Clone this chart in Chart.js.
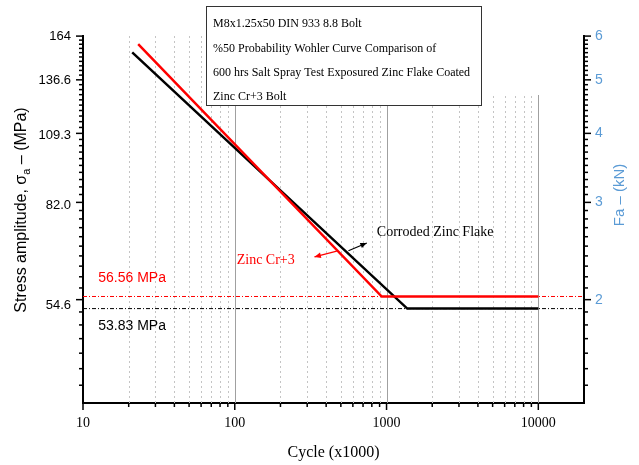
<!DOCTYPE html>
<html>
<head>
<meta charset="utf-8">
<script src="https://cdn.jsdelivr.net/npm/chart.js@4.4.1/dist/chart.umd.min.js"></script>
<style>
  html, body { margin: 0; padding: 0; background: #fff; }
  #wrap { position: relative; width: 639px; height: 465px; }
</style>
</head>
<body>
<div id="wrap"><canvas id="wohler"></canvas></div>
<script>
// datos
const cycleTicks = [10, 100, 1000, 10000];
const stressTicks = [54.6, 82.0, 109.3, 136.6, 164];
const stressTickLabels = ['54.6', '82.0', '109.3', '136.6', '164'];
const forceTicks = [2, 3, 4, 5, 6];

const corrodedCycles = [21.1, 1370, 10000];
const corrodedStress = [153.4, 53.83, 53.83];
const zincCycles = [23.1, 930, 10000];
const zincStress = [158.7, 56.56, 56.56];

const limitCycles = [10, 20000];
const corrodedLimit = [53.83, 53.83];
const zincLimit = [56.56, 56.56];

const stressArea = 36.6; // mm2 (M8)
const stressMin = 36.6, stressMax = 164;
const cycleMin = 10, cycleMax = 20000;

const titleLines = [
    'M8x1.25x50 DIN 933 8.8 Bolt',
    '%50 Probability Wohler Curve Comparison of',
    '600 hrs Salt Spray Test Exposured Zinc Flake Coated',
    'Zinc Cr+3 Bolt'
];

const RED = '#ff0000';
const BLUE = '#5b9bd5';

function pts(xs, ys) {
    return xs.map((x, i) => ({ x: x, y: ys[i] }));
}

// ticks menores (grid del eje x y ticks en kN)
const minorCycles = [];
[10, 100, 1000].forEach(d => { for (let k = 2; k <= 9; k++) minorCycles.push(d * k); });
const minorForce = [];
for (let k = 14; k < 60; k++) { if (k % 10) minorForce.push(k / 10); }

// notas con flechas (coordenadas en datos)
const notes = [
    { text: 'Corroded Zinc Flake', color: '#000', at: [863, 73.4], from: [561, 68.2], to: [741, 70.4] },
    { text: 'Zinc Cr+3', color: RED, at: [103, 65.6], from: [470, 68.1], to: [335, 66.5] }
];
const levelNotes = [
    { text: '56.56 MPa', color: RED, at: [12.6, 60.9] },
    { text: '53.83 MPa', color: '#000', at: [12.6, 50.1] }
];

function line(ctx, x1, y1, x2, y2) {
    ctx.beginPath();
    ctx.moveTo(x1, y1);
    ctx.lineTo(x2, y2);
    ctx.stroke();
}

const extras = {
    id: 'extras',
    beforeDatasetsDraw(chart) {
        const { ctx, chartArea: a, scales: { x } } = chart;
        ctx.save();
        // grid vertical
        ctx.lineWidth = 1;
        ctx.strokeStyle = '#c4c4c4';
        ctx.setLineDash([2, 3]);
        minorCycles.forEach(v => {
            const px = Math.round(x.getPixelForValue(v)) + 0.5;
            line(ctx, px, a.top, px, a.bottom);
        });
        ctx.setLineDash([]);
        ctx.strokeStyle = '#a0a0a0';
        cycleTicks.slice(1).forEach(v => {
            const px = Math.round(x.getPixelForValue(v)) + 0.5;
            line(ctx, px, a.top, px, a.bottom);
        });
        // caja del titulo
        ctx.fillStyle = '#fff';
        ctx.fillRect(206, a.top, a.right - 207, 59);
        ctx.fillRect(206, 6, 275, 99);
        ctx.strokeStyle = '#333';
        ctx.strokeRect(206.5, 6.5, 275, 99);
        ctx.fillStyle = '#000';
        ctx.font = '12px "Liberation Serif"';
        ctx.textBaseline = 'middle';
        titleLines.forEach((t, i) => ctx.fillText(t, 213, 24 + i * 24.4));
        ctx.restore();
    },
    afterDraw(chart) {
        const { ctx, chartArea: a, scales: { x, y, y2 } } = chart;
        ctx.save();
        // ticks
        ctx.strokeStyle = '#000';
        ctx.lineWidth = 1.5;
        minorCycles.forEach(v => {
            const px = x.getPixelForValue(v);
            line(ctx, px, a.bottom, px, a.bottom + 4);
        });
        cycleTicks.forEach(v => {
            const px = x.getPixelForValue(v);
            line(ctx, px, a.bottom, px, a.bottom + 7);
        });
        minorForce.forEach(v => {
            const py = y2.getPixelForValue(v);
            line(ctx, a.left - 4, py, a.left, py);
            line(ctx, a.right, py, a.right + 4, py);
        });
        forceTicks.forEach(v => {
            const py = y2.getPixelForValue(v);
            line(ctx, a.left - 7, py, a.left, py);
            line(ctx, a.right, py, a.right + 7, py);
        });

        // titulos de los ejes y
        ctx.fillStyle = '#000';
        ctx.textBaseline = 'middle';
        ctx.save();
        ctx.translate(22, 210);
        ctx.rotate(-Math.PI / 2);
        const big = '16px "Liberation Sans"', small = '11px "Liberation Sans"';
        const p1 = 'Stress amplitude, \u03c3', p2 = 'a', p3 = ' \u2013 (MPa)';
        ctx.font = big;
        const w1 = ctx.measureText(p1).width, w3 = ctx.measureText(p3).width;
        ctx.font = small;
        const w2 = ctx.measureText(p2).width;
        let cx = -(w1 + w2 + w3) / 2;
        ctx.textAlign = 'left';
        ctx.font = big;
        ctx.fillText(p1, cx, 0);
        ctx.font = small;
        ctx.fillText(p2, cx + w1, 5);
        ctx.font = big;
        ctx.fillText(p3, cx + w1 + w2, 0);
        ctx.restore();

        ctx.save();
        ctx.translate(620, 195);
        ctx.rotate(-Math.PI / 2);
        ctx.fillStyle = BLUE;
        ctx.font = '15px "Liberation Sans"';
        ctx.textAlign = 'center';
        ctx.fillText('Fa \u2013 (kN)', 0, 0);
        ctx.restore();

        // etiquetas de nivel
        ctx.textAlign = 'left';
        ctx.font = '14px "Liberation Sans"';
        levelNotes.forEach(n => {
            ctx.fillStyle = n.color;
            ctx.fillText(n.text, x.getPixelForValue(n.at[0]), y.getPixelForValue(n.at[1]));
        });

        // notas con flecha
        ctx.font = '14px "Liberation Serif"';
        notes.forEach(n => {
            ctx.fillStyle = n.color;
            ctx.strokeStyle = n.color;
            ctx.lineWidth = 1.2;
            ctx.fillText(n.text, x.getPixelForValue(n.at[0]), y.getPixelForValue(n.at[1]));
            const x1 = x.getPixelForValue(n.from[0]), y1 = y.getPixelForValue(n.from[1]);
            const x2 = x.getPixelForValue(n.to[0]), y2p = y.getPixelForValue(n.to[1]);
            line(ctx, x1, y1, x2, y2p);
            const ang = Math.atan2(y2p - y1, x2 - x1);
            ctx.beginPath();
            ctx.moveTo(x2, y2p);
            ctx.lineTo(x2 - 7 * Math.cos(ang - 0.4), y2p - 7 * Math.sin(ang - 0.4));
            ctx.lineTo(x2 - 7 * Math.cos(ang + 0.4), y2p - 7 * Math.sin(ang + 0.4));
            ctx.closePath();
            ctx.fill();
        });
        ctx.restore();
    }
};

var ctx = document.getElementById('wohler').getContext('2d');
var myChart = new Chart(ctx, {
    type: 'line',
    data: {
        datasets: [{
            label: 'Zinc Cr+3',
            data: pts(zincCycles, zincStress),
            borderColor: RED,
            borderWidth: 2.5,
            pointRadius: 0
        }, {
            label: 'Corroded Zinc Flake',
            data: pts(corrodedCycles, corrodedStress),
            borderColor: '#000',
            borderWidth: 2.5,
            pointRadius: 0
        }, {
            label: 'Zinc Cr+3 limit',
            data: pts(limitCycles, zincLimit),
            borderColor: RED,
            borderWidth: 1,
            borderDash: [4, 2, 1, 2],
            pointRadius: 0
        }, {
            label: 'Corroded limit',
            data: pts(limitCycles, corrodedLimit),
            borderColor: '#000',
            borderWidth: 1,
            borderDash: [4, 2, 1, 2],
            pointRadius: 0
        }]
    },
    options: {
        responsive: true,
        maintainAspectRatio: false,
        animation: false,
        layout: { padding: { top: 36 } },
        plugins: {
            legend: { display: false },
            tooltip: { enabled: false }
        },
        scales: {
            x: {
                type: 'logarithmic',
                position: 'bottom',
                min: cycleMin,
                max: cycleMax,
                afterBuildTicks: s => { s.ticks = cycleTicks.map(v => ({ value: v })); },
                afterFit: s => { s.height = 62; },
                grid: { display: false, drawTicks: false },
                border: { display: true, color: '#000', width: 2 },
                ticks: {
                    autoSkip: false,
                    maxRotation: 0,
                    padding: 12,
                    color: '#000',
                    font: { family: 'Liberation Serif', size: 14 },
                    callback: v => String(v)
                },
                title: {
                    display: true,
                    text: 'Cycle (x1000)',
                    color: '#000',
                    font: { family: 'Liberation Serif', size: 16 },
                    padding: { top: 0, bottom: 3 }
                }
            },
            y: {
                type: 'logarithmic',
                position: 'left',
                min: stressMin,
                max: stressMax,
                afterBuildTicks: s => { s.ticks = stressTicks.map(v => ({ value: v })); },
                afterFit: s => { s.width = 83; },
                grid: { display: false, drawTicks: false },
                border: { display: true, color: '#000', width: 2 },
                ticks: {
                    autoSkip: false,
                    padding: 12,
                    color: '#000',
                    font: { family: 'Liberation Sans', size: 13 },
                    callback: (v, i) => stressTickLabels[i]
                }
            },
            y2: {
                type: 'logarithmic',
                position: 'right',
                min: stressMin * stressArea / 1000,
                max: stressMax * stressArea / 1000,
                afterBuildTicks: s => { s.ticks = forceTicks.map(v => ({ value: v })); },
                afterFit: s => { s.width = 55; },
                grid: { display: false, drawTicks: false },
                border: { display: true, color: '#000', width: 2 },
                ticks: {
                    autoSkip: false,
                    padding: 11,
                    color: BLUE,
                    font: { family: 'Liberation Sans', size: 14 },
                    callback: v => String(v)
                }
            }
        }
    },
    plugins: [extras]
});
</script>
</body>
</html>
